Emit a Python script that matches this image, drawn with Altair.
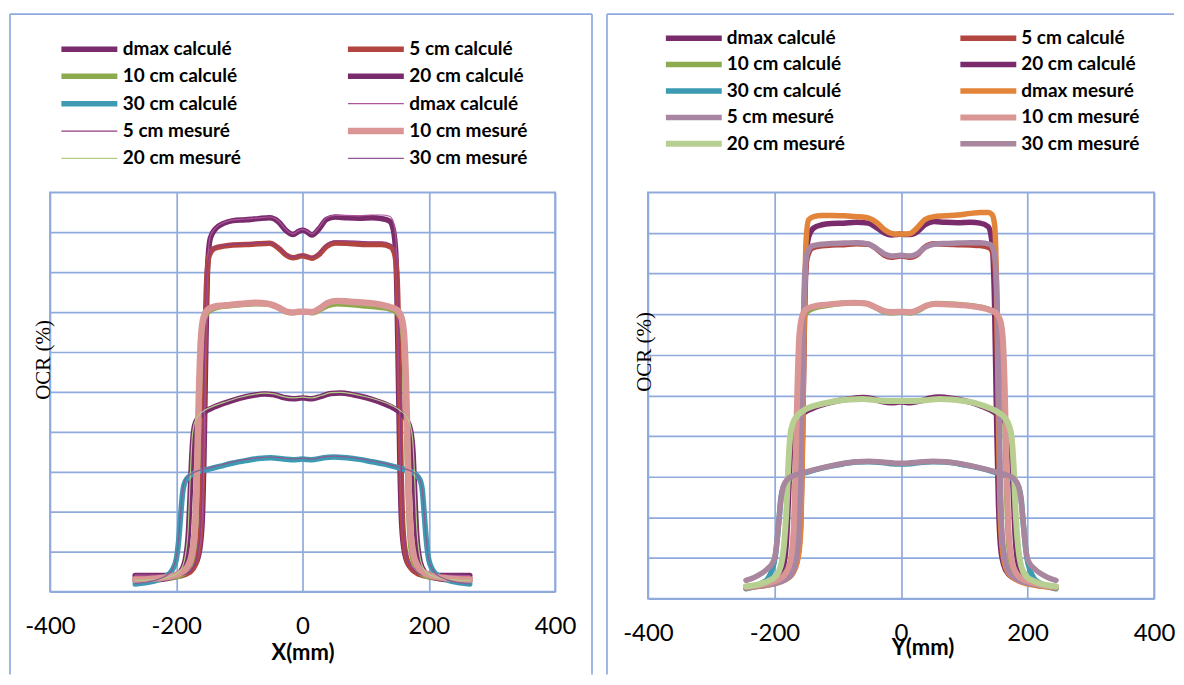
import altair as alt
import pandas as pd

# ---------------- axis values ----------------
X_TICKS = [-400, -200, 0, 200, 400]
Y_GRID = [0, 10, 20, 30, 40, 50, 60, 70, 80, 90, 100]

# ---------------- legend labels / styles ----------------
LEFT_LABELS = ["dmax calculé", "5 cm calculé", "10 cm calculé", "20 cm calculé", "30 cm calculé",
               "dmax calculé", "5 cm mesuré", "10 cm mesuré", "20 cm mesuré", "30 cm mesuré"]
RIGHT_LABELS = ["dmax calculé", "5 cm calculé", "10 cm calculé", "20 cm calculé", "30 cm calculé",
                "dmax mesuré", "5 cm mesuré", "10 cm mesuré", "20 cm mesuré", "30 cm mesuré"]
LEFT_COLORS = ["#7A2B6B", "#B2453F", "#8DAA4D", "#7A2B6B", "#3D9AB3",
               "#AA559C", "#923C86", "#D99694", "#B2CB87", "#8E5A93"]
RIGHT_COLORS = ["#7A2B6B", "#B2453F", "#8DAA4D", "#7A2B6B", "#3D9AB3",
                "#E2843A", "#A886A3", "#D99694", "#B8CF92", "#A8869E"]
LEFT_WIDTHS = [5.5, 5.5, 5.5, 5.5, 5.5, 1.2, 1.2, 6.5, 1.2, 1.2]
RIGHT_WIDTHS = [5.5, 5.5, 5.5, 5.5, 5.5, 5.5, 5.5, 6, 6, 5.5]
# legend reading order (two columns, filled column by column)
LEGEND_ORDER = [0, 2, 4, 6, 8, 1, 3, 5, 7, 9]

# ---------------- left panel (X profiles) ----------------
L_X_DMAX = [-265, -230, -200, -185, -172, -164, -159, -156, -153, -150, -146, -138, -125, -110, -90, -70, -52, -38, -26, -15,
            -6, 0, 6, 15, 26, 38, 52, 70, 90, 110, 125, 138, 144, 148, 151, 154, 157, 162, 170, 185, 200, 230, 265]
L_Y_DMAX_CALC = [4.0, 4.0, 4.3, 4.9, 6.3, 9.5, 17, 34, 62, 82, 88.5, 90.8, 92.2, 92.9, 93.1, 93.4, 93.6, 92.6, 90.4, 89.4,
                 90.2, 90.5, 90.2, 89.3, 90.8, 93.2, 93.8, 93.6, 93.5, 93.6, 93.4, 92.8, 90.5, 84, 62, 34, 17, 9.5, 6.3, 4.9, 4.3, 4.0, 4.0]
L_Y_DMAX_MES = [4.1, 4.1, 4.4, 5.0, 6.6, 10, 18, 36, 64, 83, 89, 91, 92.4, 93.1, 93.3, 93.6, 93.8, 92.8, 90.6, 89.6,
                90.4, 90.7, 90.4, 89.6, 91.2, 93.6, 94.2, 94.2, 94.1, 94.3, 94.3, 94, 92.5, 88, 72, 45, 22, 11, 6.8, 5.0, 4.4, 4.1, 4.0]

L_X_5 = [-265, -230, -200, -185, -173, -166, -161, -158, -155, -152, -148, -140, -125, -110, -90, -70, -52, -38, -26, -15,
         -6, 0, 6, 15, 26, 38, 52, 70, 90, 110, 125, 140, 146, 150, 153, 156, 159, 164, 172, 185, 200, 230, 265]
L_Y_5_CALC = [3.3, 3.4, 3.7, 4.3, 5.8, 9, 16, 32, 58, 77, 84, 85.9, 86.5, 86.8, 86.9, 87.1, 87.2, 86, 84.3, 83.6,
              83.9, 84.1, 83.9, 83.5, 84.4, 86.4, 87.3, 87.2, 87, 86.9, 86.9, 86.3, 84.5, 78, 58, 32, 16, 9, 5.8, 4.3, 3.7, 3.4, 3.3]
L_Y_5_MES = [3.4, 3.5, 3.8, 4.4, 6, 9.5, 17, 34, 60, 78, 84.3, 86.1, 86.7, 87, 87.1, 87.3, 87.4, 86.2, 84.5, 83.8,
             84.1, 84.3, 84.1, 83.8, 84.8, 86.9, 87.8, 87.8, 87.7, 87.6, 87.6, 87, 85.5, 80, 62, 35, 17, 9.5, 6, 4.4, 3.8, 3.5, 3.4]

L_X_10 = [-265, -230, -205, -192, -182, -175, -170, -167, -164, -161, -157, -150, -135, -115, -95, -75, -55, -40, -27, -15,
          -6, 0, 6, 15, 27, 40, 55, 75, 95, 115, 135, 150, 157, 161, 164, 167, 170, 175, 182, 192, 205, 230, 265]
L_Y_10_CALC = [2.9, 3.1, 3.5, 4.2, 5.5, 8, 14, 26, 45, 60, 67, 70, 71.2, 71.6, 71.9, 72.1, 72.0, 71.2, 70.1, 69.8,
               70.0, 70.1, 70.0, 69.8, 70.5, 71.6, 72.1, 71.9, 71.6, 71.3, 70.9, 69.8, 67, 60, 45, 26, 14, 8, 5.5, 4.2, 3.5, 3.1, 2.9]
L_Y_10_MES = [3.0, 3.3, 3.9, 4.8, 6.3, 9.5, 17, 31, 50, 63, 68.5, 70.6, 71.5, 71.8, 72.1, 72.3, 72.1, 71.3, 70.2, 69.9,
              70.1, 70.1, 70.1, 70.0, 70.9, 72.3, 72.8, 72.6, 72.4, 72.1, 71.4, 70.5, 68.5, 64, 52, 33, 18, 10, 6.5, 4.8, 3.9, 3.3, 3.0]

L_X_20 = [-265, -235, -212, -198, -190, -185, -181, -178, -175, -171, -165, -155, -140, -120, -100, -80, -60, -45, -30, -15,
          -6, 0, 6, 15, 30, 45, 60, 80, 100, 120, 140, 155, 165, 171, 175, 178, 181, 185, 190, 198, 212, 235, 265]
L_Y_20_CALC = [2.7, 2.9, 3.4, 4.3, 5.8, 8.5, 14, 24, 35, 41.5, 43.5, 45, 46.2, 47.4, 48.4, 49.1, 49.5, 49.3, 48.6, 48.3,
               48.4, 48.5, 48.4, 48.3, 48.9, 49.6, 49.7, 49.3, 48.6, 47.6, 46.3, 44.8, 43, 40.5, 35, 24, 14, 8.5, 5.8, 4.3, 3.4, 2.9, 2.7]
L_Y_20_MES = [2.8, 3.0, 3.6, 4.6, 6.3, 9.5, 16, 28, 38, 42.3, 44, 45.4, 46.5, 47.6, 48.6, 49.3, 49.7, 49.5, 48.8, 48.5,
              48.6, 48.7, 48.6, 48.5, 49.1, 49.8, 49.9, 49.5, 48.8, 47.9, 46.7, 45.3, 43.7, 41.5, 37, 27, 16, 9.5, 6.3, 4.6, 3.6, 3.0, 2.8]

L_X_30 = [-265, -245, -228, -215, -206, -200, -196, -193, -190, -186, -178, -165, -150, -130, -110, -90, -70, -50, -30, -15,
          -6, 0, 6, 15, 30, 50, 70, 90, 110, 130, 150, 165, 178, 186, 190, 193, 196, 200, 206, 215, 228, 245, 265]
L_Y_30_CALC = [1.9, 2.3, 3.0, 4.0, 5.5, 8, 13, 19, 24.5, 27.5, 29, 30, 30.6, 31.4, 32.2, 32.8, 33.3, 33.5, 33.2, 33.0,
               33.1, 33.2, 33.1, 33.0, 33.4, 33.7, 33.5, 33.1, 32.5, 31.9, 31.1, 30.4, 29.5, 28, 25, 19, 13, 8, 5.5, 4.0, 3.0, 2.3, 1.9]
L_Y_30_MES = [2.0, 2.4, 3.1, 4.1, 5.7, 8.5, 13.5, 20, 25, 28, 29.3, 30.3, 30.9, 31.7, 32.5, 33.1, 33.5, 33.7, 33.4, 33.2,
              33.3, 33.4, 33.3, 33.2, 33.6, 33.9, 33.7, 33.3, 32.7, 32.1, 31.3, 30.6, 29.6, 28, 25, 19, 13, 8, 5.5, 4.0, 3.0, 2.3, 1.9]

# ---------------- right panel (Y profiles) ----------------
R_X_DMAX = [-245, -222, -200, -184, -172, -164, -159, -156, -153, -150, -146, -138, -125, -110, -90, -70, -52, -38, -26, -15,
            -6, 0, 6, 15, 26, 38, 52, 70, 90, 110, 125, 138, 144, 148, 151, 154, 157, 162, 170, 184, 200, 222, 245]
R_Y_DMAX_CALC = [2.8, 3.2, 3.9, 4.8, 6.3, 9.5, 17, 36, 64, 83, 89, 91.2, 92.0, 92.3, 92.4, 92.6, 92.4, 91.2, 90.0, 89.5,
                 89.6, 89.7, 89.6, 89.6, 90.3, 92.0, 92.8, 92.6, 92.5, 92.6, 92.4, 91.5, 87.5, 72, 45, 24, 13.5, 8.5, 6, 4.7, 3.9, 3.2, 2.8]
R_Y_DMAX_MES = [2.6, 3.0, 3.6, 4.5, 6, 9, 15, 33, 66, 88, 93.2, 94.0, 94.3, 94.3, 94.2, 94.0, 93.7, 92.5, 90.8, 89.9,
                89.7, 89.7, 89.7, 89.9, 91.3, 93.3, 94.0, 94.2, 94.4, 94.8, 95.0, 95.0, 94.5, 92, 78, 45, 20, 10, 6.2, 4.5, 3.6, 3.0, 2.6]

R_X_5 = [-245, -222, -200, -185, -173, -166, -161, -158, -155, -152, -148, -140, -125, -110, -90, -70, -52, -38, -26, -15,
         -6, 0, 6, 15, 26, 38, 52, 70, 90, 110, 125, 140, 146, 150, 153, 156, 159, 164, 172, 185, 200, 222, 245]
R_Y_5_CALC = [2.9, 3.3, 3.9, 4.6, 6, 9, 16, 32, 58, 77, 84, 86.3, 86.8, 87.0, 87.1, 87.3, 87.2, 86.0, 84.5, 84.0,
              84.2, 84.3, 84.2, 84.0, 84.7, 86.5, 87.3, 87.2, 87.1, 87.0, 86.9, 86.3, 84.5, 78, 58, 32, 16, 9, 6, 4.6, 3.9, 3.3, 2.9]
R_Y_5_MES = [2.7, 3.1, 3.7, 4.5, 6, 9.5, 17, 36, 63, 80, 85, 86.8, 87.2, 87.4, 87.5, 87.6, 87.3, 86.1, 84.8, 84.3,
             84.4, 84.5, 84.4, 84.3, 84.9, 86.4, 87.2, 87.4, 87.5, 87.6, 87.6, 87.2, 86, 81, 66, 38, 18, 10, 6.2, 4.6, 3.8, 3.2, 2.8]

R_X_10 = [-245, -222, -205, -192, -182, -175, -170, -167, -164, -161, -157, -150, -135, -115, -95, -75, -55, -40, -27, -15,
          -6, 0, 6, 15, 27, 40, 55, 75, 95, 115, 135, 150, 157, 161, 164, 167, 170, 175, 182, 192, 205, 222, 245]
R_Y_10_CALC = [2.8, 3.2, 3.7, 4.4, 5.7, 8, 14, 26, 45, 60, 67, 70.3, 71.6, 72.2, 72.6, 72.8, 72.6, 71.6, 70.6, 70.3,
               70.4, 70.5, 70.4, 70.3, 70.9, 72.0, 72.6, 72.5, 72.3, 72.0, 71.4, 70.2, 67.5, 60, 45, 26, 14, 8, 5.7, 4.4, 3.7, 3.2, 2.8]
R_Y_10_MES = [2.9, 3.4, 4.0, 4.8, 6.3, 9, 16, 30, 50, 64, 69, 71.2, 72.0, 72.4, 72.7, 72.8, 72.6, 71.7, 70.8, 70.5,
              70.6, 70.6, 70.6, 70.5, 71.1, 72.1, 72.5, 72.4, 72.2, 71.9, 71.3, 70.3, 68.5, 64, 52, 32, 17, 9.5, 6.3, 4.8, 4.0, 3.4, 2.9]

R_X_20 = [-245, -225, -210, -198, -190, -185, -181, -178, -175, -171, -165, -155, -140, -120, -100, -80, -60, -45, -30, -15,
          -6, 0, 6, 15, 30, 45, 60, 80, 100, 120, 140, 155, 165, 171, 175, 178, 181, 185, 190, 198, 210, 225, 245]
R_Y_20_CALC = [2.7, 3.2, 3.8, 4.6, 6, 8.5, 14, 24, 35, 41.5, 43.8, 45.5, 46.8, 47.9, 48.7, 49.2, 49.5, 49.2, 48.5, 48.2,
               48.3, 48.4, 48.3, 48.2, 48.6, 49.3, 49.6, 49.3, 48.7, 47.8, 46.5, 45, 43.3, 40.5, 35, 24, 14, 8.5, 6, 4.6, 3.8, 3.2, 2.7]
R_Y_20_MES = [3.0, 3.5, 4.3, 5.5, 8, 13, 22, 33, 40, 43, 44.8, 46.2, 47.3, 48.1, 48.7, 49.0, 49.1, 48.9, 48.7, 48.6,
              48.6, 48.6, 48.6, 48.6, 48.7, 48.9, 49.1, 49.0, 48.6, 48.0, 46.9, 45.7, 44.3, 42.5, 39.5, 33, 22, 13, 8, 5.5, 4.3, 3.5, 3.0]

R_X_30 = [-245, -232, -220, -210, -204, -199, -196, -193, -190, -186, -178, -165, -150, -130, -110, -90, -70, -50, -30, -15,
          -6, 0, 6, 15, 30, 50, 70, 90, 110, 130, 150, 165, 178, 186, 190, 193, 196, 199, 204, 210, 220, 232, 245]
R_Y_30_CALC = [2.4, 3.0, 3.8, 5, 7, 10, 14, 19, 24.5, 27.5, 29.2, 30.3, 31.0, 31.9, 32.6, 33.2, 33.6, 33.7, 33.5, 33.2,
               33.1, 33.1, 33.1, 33.2, 33.5, 33.7, 33.6, 33.2, 32.6, 31.9, 31.0, 30.3, 29.2, 27.5, 24.5, 19, 14, 10, 7, 5, 3.8, 3.0, 2.4]
R_Y_30_MES = [4.5, 5.2, 6.2, 7.5, 8.5, 10.5, 14, 19, 24, 27.5, 29.6, 30.5, 31.2, 32.0, 32.7, 33.3, 33.7, 33.8, 33.6, 33.4,
              33.3, 33.3, 33.3, 33.4, 33.6, 33.8, 33.7, 33.3, 32.7, 32.0, 31.2, 30.5, 29.6, 27.5, 24, 19, 14, 10.5, 8.5, 7.5, 6.2, 5.2, 4.5]

GRID = "#8FAADC"
FRAME = "#8FAADC"
FONT = "Lato"


def build(labels, xs, ys):
    rows = []
    keys = []
    for i, (lab, xv, yv) in enumerate(zip(labels, xs, ys)):
        key = f"{i:02d}|{lab}"
        keys.append(key)
        for a, b in zip(xv, yv):
            rows.append({"key": key, "x": a, "y": b})
    return pd.DataFrame(rows), keys


def panel(df, keys, colors, widths, w, h, x_title, leg_x, leg_y, col_pad, row_pad,
          title_x, title_y, ytitle_x, ytitle_y, fl, fr, ft, fb, right_rule):
    dom = [keys[i] for i in LEGEND_ORDER]
    col_rng = [colors[i] for i in LEGEND_ORDER]
    w_rng = [widths[i] for i in LEGEND_ORDER]
    legend = alt.Legend(
        title=None, orient="none", legendX=leg_x, legendY=leg_y, columns=2,
        columnPadding=col_pad, rowPadding=row_pad, symbolType="stroke", symbolSize=3136,
        clipHeight=19, labelFont=FONT, labelFontWeight="bold", labelFontSize=19,
        labelColor="black", labelOffset=2, labelLimit=400, padding=0,
        labelExpr="substring(datum.label, 3)")
    lines = alt.Chart(df).mark_line(interpolate="monotone", strokeCap="round", strokeJoin="round").encode(
        x=alt.X("x:Q", scale=alt.Scale(domain=[-400, 400], nice=False, zero=False),
                axis=alt.Axis(values=X_TICKS, labelExpr="'' + datum.value", labelFont=FONT,
                              labelFontSize=24, labelColor="black", labelPadding=35,
                              labelBaseline="middle", labelFlush=False, labelOverlap=False,
                              ticks=False, tickSize=0, domain=False, grid=True,
                              gridColor=GRID, gridWidth=1.7, title=x_title, titleFont=FONT,
                              titleFontSize=22, titleFontWeight="bold", titleColor="black",
                              titleX=title_x, titleY=title_y, titleBaseline="middle",
                              titleAlign="center")),
        y=alt.Y("y:Q", scale=alt.Scale(domain=[0, 100], nice=False),
                axis=alt.Axis(values=Y_GRID, labels=False, ticks=False, tickSize=0, domain=False,
                              grid=True, gridColor=GRID, gridWidth=1.7, title="OCR (%)",
                              titleFont="Liberation Serif", titleFontSize=21,
                              titleFontWeight="normal", titleColor="black", titleAngle=270,
                              titleX=ytitle_x, titleY=ytitle_y, titleAlign="center",
                              titleBaseline="middle")),
        color=alt.Color("key:N", scale=alt.Scale(domain=dom, range=col_rng), legend=legend),
        strokeWidth=alt.StrokeWidth("key:N", scale=alt.Scale(type="ordinal", domain=dom, range=w_rng),
                                    legend=legend),
    ).properties(width=w, height=h)

    one = alt.Data(values=[{"k": 0}])
    rules = [
        alt.Chart(one).mark_rule(color=FRAME, strokeWidth=1.7).encode(
            x=alt.value(fl), y=alt.value(ft), y2=alt.value(fb)),
        alt.Chart(one).mark_rule(color=FRAME, strokeWidth=1.7).encode(
            x=alt.value(fl), x2=alt.value(fr), y=alt.value(ft)),
    ]
    if right_rule:
        rules.append(alt.Chart(one).mark_rule(color=FRAME, strokeWidth=1.7).encode(
            x=alt.value(fr), y=alt.value(ft), y2=alt.value(fb)))
    return alt.layer(*rules, lines)


left_df, left_keys = build(
    LEFT_LABELS,
    [L_X_DMAX, L_X_5, L_X_10, L_X_20, L_X_30, L_X_DMAX, L_X_5, L_X_10, L_X_20, L_X_30],
    [L_Y_DMAX_CALC, L_Y_5_CALC, L_Y_10_CALC, L_Y_20_CALC, L_Y_30_CALC,
     L_Y_DMAX_MES, L_Y_5_MES, L_Y_10_MES, L_Y_20_MES, L_Y_30_MES])
right_df, right_keys = build(
    RIGHT_LABELS,
    [R_X_DMAX, R_X_5, R_X_10, R_X_20, R_X_30, R_X_DMAX, R_X_5, R_X_10, R_X_20, R_X_30],
    [R_Y_DMAX_CALC, R_Y_5_CALC, R_Y_10_CALC, R_Y_20_CALC, R_Y_30_CALC,
     R_Y_DMAX_MES, R_Y_5_MES, R_Y_10_MES, R_Y_20_MES, R_Y_30_MES])

left = panel(left_df, left_keys, LEFT_COLORS, LEFT_WIDTHS, 506, 400, "X(mm)",
             8, -153, 103, 7.4, 253, 61.5, -6.5, 167.5,
             -40, 543, -178.5, 483, True)
right = panel(right_df, right_keys, RIGHT_COLORS, RIGHT_WIDTHS, 507, 407, "Y(mm)",
              15, -164, 112, 6.5, 275, 49.5, -3, 159.5,
              -41, 527, -178.5, 483, False)

chart = alt.hconcat(left, right, spacing=93, bounds="flush").resolve_scale(
    color="independent", strokeWidth="independent", x="independent", y="independent"
).resolve_legend(color="independent", strokeWidth="independent").properties(
    padding={"left": 0, "top": 3, "right": 0, "bottom": 0}, background="white"
).configure_view(stroke=GRID, strokeWidth=1.7)

chart.save("out.html", embed_options={"renderer": "svg", "actions": False})
